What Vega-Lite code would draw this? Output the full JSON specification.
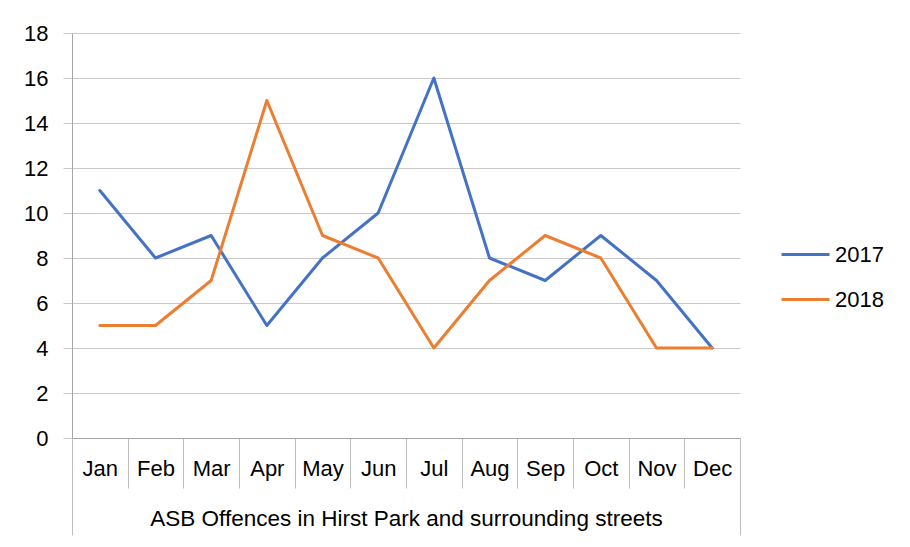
{
  "$schema": "https://vega.github.io/schema/vega-lite/v6.json",
  "autosize": {"type": "none"},
  "padding": {"left": 72, "top": 33, "right": 170, "bottom": 109},
  "width": 668,
  "height": 405,
  "background": "white",
  "config": {
    "view": {"stroke": null},
    "font": "Liberation Sans"
  },
  "layer": [
    {
      "data": {"values": [
        {"month": "Jan", "year": "2017", "count": 11},
        {"month": "Feb", "year": "2017", "count": 8},
        {"month": "Mar", "year": "2017", "count": 9},
        {"month": "Apr", "year": "2017", "count": 5},
        {"month": "May", "year": "2017", "count": 8},
        {"month": "Jun", "year": "2017", "count": 10},
        {"month": "Jul", "year": "2017", "count": 16},
        {"month": "Aug", "year": "2017", "count": 8},
        {"month": "Sep", "year": "2017", "count": 7},
        {"month": "Oct", "year": "2017", "count": 9},
        {"month": "Nov", "year": "2017", "count": 7},
        {"month": "Dec", "year": "2017", "count": 4},
        {"month": "Jan", "year": "2018", "count": 5},
        {"month": "Feb", "year": "2018", "count": 5},
        {"month": "Mar", "year": "2018", "count": 7},
        {"month": "Apr", "year": "2018", "count": 15},
        {"month": "May", "year": "2018", "count": 9},
        {"month": "Jun", "year": "2018", "count": 8},
        {"month": "Jul", "year": "2018", "count": 4},
        {"month": "Aug", "year": "2018", "count": 7},
        {"month": "Sep", "year": "2018", "count": 9},
        {"month": "Oct", "year": "2018", "count": 8},
        {"month": "Nov", "year": "2018", "count": 4},
        {"month": "Dec", "year": "2018", "count": 4}
      ]},
      "mark": {"type": "line", "strokeWidth": 3, "strokeJoin": "round", "strokeCap": "round"},
      "encoding": {
        "x": {
          "field": "month", "type": "nominal", "sort": null,
          "scale": {"type": "band", "paddingInner": 0, "paddingOuter": 0},
          "axis": {
            "orient": "bottom", "title": null, "labelAngle": 0,
            "labelFont": "Liberation Sans", "labelFontSize": 22, "labelColor": "#000000",
            "tickBand": "extent", "tickSize": 50, "tickColor": "#bfbfbf", "tickWidth": 1,
            "domainColor": "#a6a6a6", "domainWidth": 1,
            "labelPadding": -30, "grid": false
          }
        },
        "y": {
          "field": "count", "type": "quantitative",
          "scale": {"domain": [0, 18], "nice": false},
          "axis": {
            "title": null, "values": [0, 2, 4, 6, 8, 10, 12, 14, 16, 18],
            "labelFont": "Liberation Sans", "labelFontSize": 22, "labelColor": "#000000",
            "grid": true, "gridColor": "#c8c8c8", "gridWidth": 1,
            "tickSize": 9, "tickColor": "#c8c8c8",
            "domainColor": "#a6a6a6", "labelPadding": 15
          }
        },
        "color": {
          "field": "year", "type": "nominal",
          "scale": {"domain": ["2017", "2018"], "range": ["#4472C4", "#ED7D31"]},
          "legend": {
            "title": null, "orient": "none", "legendX": 708, "legendY": 196,
            "symbolType": "stroke", "symbolSize": 2304, "symbolStrokeWidth": 3,
            "labelFontSize": 22, "labelFont": "Liberation Sans", "labelColor": "#000000",
            "labelOffset": 4, "rowPadding": 8, "padding": 0
          }
        }
      }
    },
    {
      "data": {"values": [{"caption": "ASB Offences in Hirst Park and surrounding streets"}]},
      "mark": {"type": "point", "opacity": 0},
      "encoding": {
        "x": {
          "field": "caption", "type": "nominal",
          "scale": {"type": "band", "paddingInner": 0, "paddingOuter": 0},
          "axis": {
            "orient": "bottom", "title": null, "labelAngle": 0, "domain": false, "grid": false,
            "labelFont": "Liberation Sans", "labelFontSize": 22.5, "labelColor": "#000000",
            "labelLimit": 0,
            "tickBand": "extent", "tickSize": 97, "tickColor": "#bfbfbf", "tickWidth": 1,
            "labelPadding": -28
          }
        }
      }
    }
  ],
  "resolve": {"scale": {"x": "independent"}, "axis": {"x": "independent"}}
}
